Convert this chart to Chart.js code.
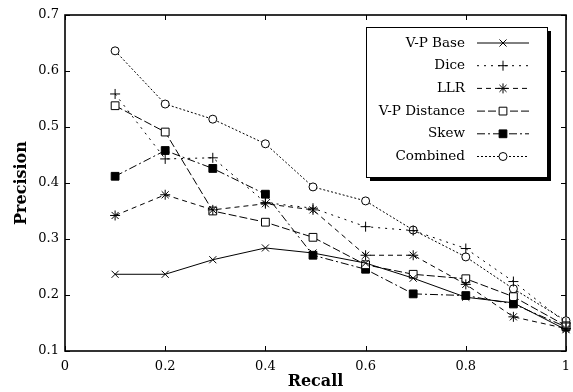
<!DOCTYPE html>
<html>
<head>
<meta charset="utf-8">
<script src="https://cdn.jsdelivr.net/npm/chart.js@4.4.1/dist/chart.umd.min.js"></script>
<style>
  html, body { margin: 0; padding: 0; background: #fff; }
  #wrap { width: 573px; height: 392px; }
</style>
</head>
<body>
<div id="wrap"><canvas id="chart"></canvas></div>
<script>
// recall levels (x) and precision per method (y)
const recall      = [0.1, 0.2, 0.295, 0.4, 0.495, 0.6, 0.695, 0.8, 0.895, 1.0];
const vpBase      = [0.237, 0.237, 0.263, 0.284, 0.275, 0.257, 0.230, 0.196, 0.186, 0.138];
const dice        = [0.559, 0.443, 0.445, 0.365, 0.355, 0.322, 0.315, 0.283, 0.224, 0.150];
const llr         = [0.342, 0.379, 0.352, 0.363, 0.352, 0.271, 0.271, 0.219, 0.161, 0.140];
const vpDistance  = [0.538, 0.491, 0.350, 0.330, 0.303, 0.254, 0.237, 0.229, 0.197, 0.145];
const skew        = [0.412, 0.458, 0.426, 0.380, 0.271, 0.246, 0.202, 0.199, 0.184, 0.143];
const combined    = [0.636, 0.541, 0.514, 0.470, 0.393, 0.368, 0.316, 0.268, 0.211, 0.154];

const xTicks = [0, 0.2, 0.4, 0.6, 0.8, 1];
const yTicks = [0.1, 0.2, 0.3, 0.4, 0.5, 0.6, 0.7];

const FONT = "'DejaVu Serif', serif";

function pts(ys) { return ys.map((v, i) => ({ x: recall[i], y: v })); }

function series(label, ys, style, dash, radius, fill) {
    return {
        label,
        data: pts(ys),
        borderColor: '#000',
        borderWidth: 1,
        borderDash: dash,
        backgroundColor: fill,
        pointStyle: style,
        pointRadius: radius,
        pointBorderWidth: 1,
        pointBorderColor: '#000',
        pointBackgroundColor: fill,
        tension: 0,
        fill: false,
        clip: false,
    };
}

const datasets = [
    series('V-P Base', vpBase, 'crossRot', [], 5, '#fff'),
    series('Dice', dice, 'cross', [2, 5], 5, '#fff'),
    series('LLR', llr, 'star', [5, 4], 5, '#fff'),
    series('V-P Distance', vpDistance, 'rect', [8, 3], 5.5, '#fff'),
    series('Skew', skew, 'rect', [8, 3, 2, 3], 5.5, '#000'),
    series('Combined', combined, 'circle', [2, 2], 4, '#fff'),
];

// gnuplot-like frame with inward ticks on all four sides
const framePlugin = {
    id: 'frame',
    beforeDatasetsDraw(chart) {
        const { ctx, chartArea: a, scales: { x, y } } = chart;
        ctx.save();
        ctx.strokeStyle = '#000';
        ctx.lineWidth = 1;
        ctx.beginPath();
        xTicks.forEach(v => {
            const px = Math.round(x.getPixelForValue(v)) + 0.5;
            ctx.moveTo(px, a.bottom); ctx.lineTo(px, a.bottom - 5);
            ctx.moveTo(px, a.top); ctx.lineTo(px, a.top + 5);
        });
        yTicks.forEach(v => {
            const py = Math.round(y.getPixelForValue(v)) + 0.5;
            ctx.moveTo(a.left, py); ctx.lineTo(a.left + 5, py);
            ctx.moveTo(a.right, py); ctx.lineTo(a.right - 5, py);
        });
        ctx.stroke();
        ctx.lineWidth = 1.6;
        ctx.strokeRect(a.left, a.top, a.right - a.left, a.bottom - a.top);
        ctx.restore();
    }
};

// legend box: right-aligned labels, line sample with marker to the right
const legendPlugin = {
    id: 'boxLegend',
    afterDraw(chart) {
        const { ctx, chartArea: a } = chart;
        const bw = 181, bh = 150;
        const bx = a.right - 19 - bw, by = a.top + 12;
        ctx.save();
        ctx.fillStyle = '#000';
        ctx.fillRect(bx + 4, by + 4, bw, bh);
        ctx.fillStyle = '#fff';
        ctx.fillRect(bx, by, bw, bh);
        ctx.strokeStyle = '#000';
        ctx.lineWidth = 1;
        ctx.strokeRect(bx + 0.5, by + 0.5, bw, bh);
        ctx.font = '13.5px ' + FONT;
        ctx.textAlign = 'right';
        ctx.textBaseline = 'middle';
        chart.data.datasets.forEach((ds, i) => {
            const ry = by + 16 + i * 22.7;
            ctx.fillStyle = '#000';
            ctx.fillText(ds.label, bx + 99, ry);
            ctx.beginPath();
            ctx.setLineDash(ds.borderDash);
            ctx.lineWidth = 1;
            ctx.moveTo(bx + 111, ry);
            ctx.lineTo(bx + 163, ry);
            ctx.stroke();
            ctx.setLineDash([]);
            ctx.fillStyle = ds.pointBackgroundColor;
            ctx.strokeStyle = '#000';
            Chart.helpers.drawPoint(ctx, {
                pointStyle: ds.pointStyle, radius: ds.pointRadius,
                borderWidth: 1, rotation: 0
            }, bx + 137, ry);
        });
        ctx.restore();
    }
};

new Chart(document.getElementById('chart'), {
    type: 'line',
    data: { datasets },
    plugins: [framePlugin, legendPlugin],
    options: {
        responsive: true,
        maintainAspectRatio: false,
        animation: false,
        layout: { padding: { top: 15, right: 7, left: 0, bottom: 0 } },
        plugins: { legend: { display: false }, tooltip: { enabled: false } },
        scales: {
            x: {
                type: 'linear',
                min: 0, max: 1,
                afterBuildTicks: s => { s.ticks = xTicks.map(v => ({ value: v })); },
                afterFit: s => { s.height = 41; s.paddingLeft = 0; s.paddingRight = 0; },
                grid: { display: false, drawTicks: false },
                border: { display: false },
                ticks: {
                    color: '#000', padding: 8, maxRotation: 0,
                    font: { family: FONT, size: 13 },
                    callback: v => String(v),
                },
                title: {
                    display: true, text: 'Recall', color: '#000',
                    font: { family: FONT, size: 16, weight: 'bold' },
                    padding: { top: 0, bottom: 1 },
                },
            },
            y: {
                min: 0.1, max: 0.7,
                afterBuildTicks: s => { s.ticks = yTicks.map(v => ({ value: v })); },
                afterFit: s => { s.width = 65; s.paddingTop = 0; s.paddingBottom = 0; },
                grid: { display: false, drawTicks: false },
                border: { display: false },
                ticks: {
                    color: '#000', padding: 6,
                    font: { family: FONT, size: 13 },
                    callback: v => v.toFixed(1),
                },
                title: {
                    display: true, text: 'Precision', color: '#000',
                    font: { family: FONT, size: 16, weight: 'bold' },
                    padding: { top: 12, bottom: 0 },
                },
            },
        },
    },
});
</script>
</body>
</html>
